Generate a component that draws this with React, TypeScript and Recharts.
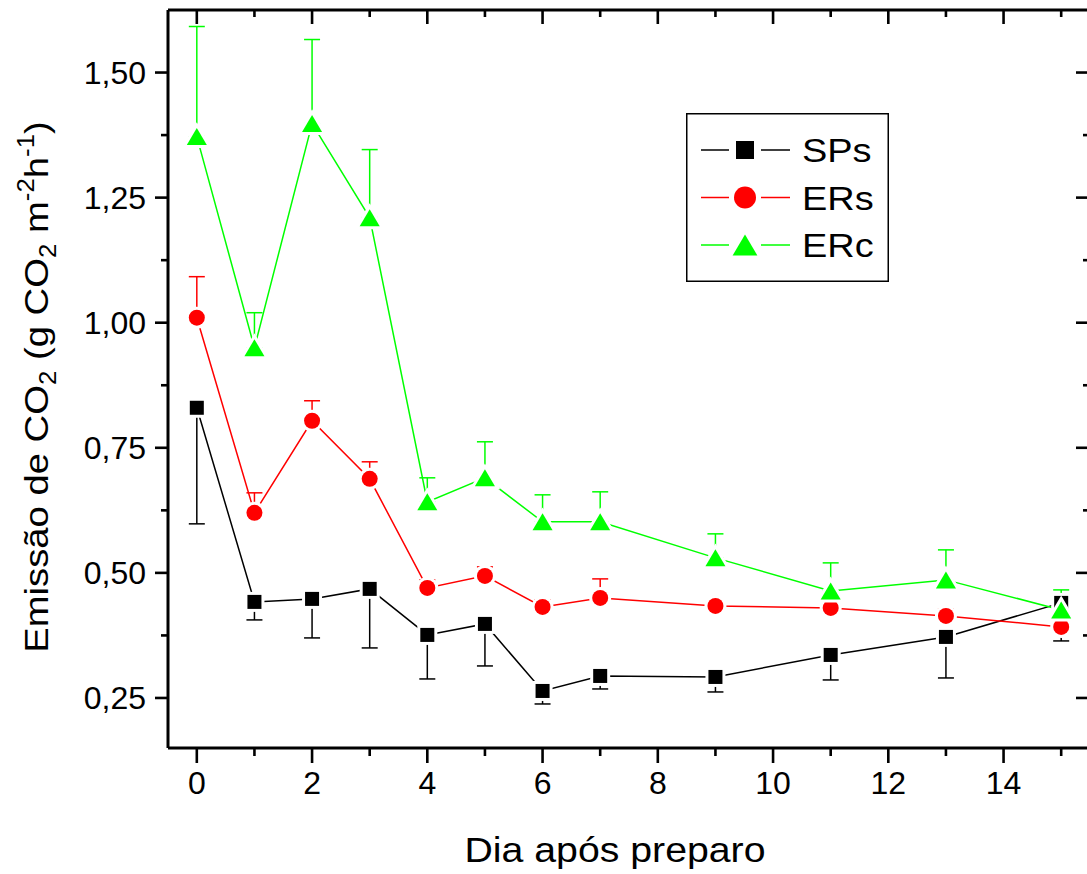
import { LineChart, Line, XAxis, YAxis, ErrorBar, Legend } from 'recharts';

// dias após o preparo do solo
const days = [0, 1, 2, 3, 4, 5, 6, 7, 9, 11, 13, 15];

// SPs (erro mostrado para baixo)
const sps = [0.83, 0.442, 0.448, 0.468, 0.376, 0.398, 0.264, 0.294, 0.292, 0.336, 0.372, 0.44];
const spsErr = [0.232, 0.036, 0.078, 0.118, 0.088, 0.084, 0.026, 0.026, 0.03, 0.05, 0.082, 0.076];

// ERs (erro para cima)
const ers = [1.01, 0.62, 0.804, 0.688, 0.47, 0.494, 0.432, 0.45, 0.434, 0.43, 0.414, 0.392];
const ersErr = [0.082, 0.04, 0.04, 0.034, 0.016, 0.018, 0.014, 0.038, 0.01, 0.012, 0.014, 0.02];

// ERc (erro para cima)
const erc = [1.372, 0.95, 1.398, 1.21, 0.642, 0.69, 0.602, 0.602, 0.53, 0.464, 0.486, 0.426];
const ercErr = [0.22, 0.07, 0.168, 0.136, 0.048, 0.072, 0.054, 0.06, 0.048, 0.056, 0.06, 0.04];

const xTicks = [0, 1, 2, 3, 4, 5, 6, 7, 8, 9, 10, 11, 12, 13, 14, 15];
const yTicks = [0.25, 0.375, 0.5, 0.625, 0.75, 0.875, 1.0, 1.125, 1.25, 1.375, 1.5];
const legendOrder = ['sps', 'ers', 'erc'];

const data = days.map((d, i) => ({
  day: d,
  sps: sps[i],
  spsErr: [spsErr[i], 0],
  ers: ers[i],
  ersErr: [0, ersErr[i]],
  erc: erc[i],
  ercErr: [0, ercErr[i]],
}));

const FONT = '"Liberation Sans", Arial, Helvetica, sans-serif';
const AXIS_W = 2.6;

type Shape = 'square' | 'circle' | 'triangle';

function Marker({ shape, cx, cy, color, size, halo = 6 }: { shape: Shape; cx: number; cy: number; color: string; size: number; halo?: number }) {
  if (cx == null || cy == null) return null;
  const common = { fill: color, stroke: '#fff', strokeWidth: halo, paintOrder: 'stroke' as any };
  if (shape === 'square') {
    return <rect x={cx - size / 2} y={cy - size / 2} width={size} height={size} {...common} />;
  }
  if (shape === 'circle') {
    return <circle cx={cx} cy={cy} r={size / 2} {...common} />;
  }
  const w = size * 1.18;
  const h = size;
  return <polygon points={`${cx},${cy - h / 2} ${cx - w / 2},${cy + h / 2} ${cx + w / 2},${cy + h / 2}`} {...common} />;
}

const dotFor = (shape: Shape, color: string, size: number) => (p: any) => (
  <Marker key={`${shape}-${p.index}`} shape={shape} cx={p.cx} cy={p.cy} color={color} size={size} />
);

function BottomTick({ x, y, payload }: any) {
  const major = payload.value % 2 === 0;
  return (
    <g>
      <line x1={x} x2={x} y1={y} y2={y + (major ? 15 : 8)} stroke="#000" strokeWidth={AXIS_W} />
      {major && (
        <text x={x} y={y + 46} textAnchor="middle" fontSize={32} fontFamily={FONT} fill="#000">
          {payload.value}
        </text>
      )}
    </g>
  );
}

function TopTick({ x, y, payload }: any) {
  const major = payload.value % 2 === 0;
  return <line x1={x} x2={x} y1={y} y2={y + (major ? 14 : 7)} stroke="#000" strokeWidth={AXIS_W} />;
}

const isMajorY = (v: number) => Math.abs(v * 4 - Math.round(v * 4)) < 1e-6;

function LeftTick({ x, y, payload }: any) {
  const v = payload.value;
  const major = isMajorY(v);
  return (
    <g>
      <line x1={x} x2={x - (major ? 13 : 7)} y1={y} y2={y} stroke="#000" strokeWidth={AXIS_W} />
      {major && (
        <text x={x - 22} y={y} dy="0.36em" textAnchor="end" fontSize={32} fontFamily={FONT} fill="#000">
          {v.toFixed(2).replace('.', ',')}
        </text>
      )}
    </g>
  );
}

function RightTick({ x, y, payload }: any) {
  const major = isMajorY(payload.value);
  return <line x1={x} x2={x - (major ? 14 : 7)} y1={y} y2={y} stroke="#000" strokeWidth={AXIS_W} />;
}

function YTitle() {
  return (
    <text transform="translate(48,387) rotate(-90) scale(1.125,1)" x={0} y={0} textAnchor="middle" fontSize={34} fontFamily={FONT} fill="#000">
      <tspan>Emissão de CO</tspan>
      <tspan dy={8} fontSize={23}>2</tspan>
      <tspan dy={-8}> (g CO</tspan>
      <tspan dy={8} fontSize={23}>2</tspan>
      <tspan dy={-8}> m</tspan>
      <tspan dy={-14} fontSize={23}>-2</tspan>
      <tspan dy={14}>h</tspan>
      <tspan dy={-14} fontSize={23}>-1</tspan>
      <tspan dy={14}>)</tspan>
    </text>
  );
}

function XTitle() {
  return (
    <text x={615} y={862} textAnchor="middle" fontSize={35} fontFamily={FONT} fill="#000" textLength={301} lengthAdjust="spacingAndGlyphs">
      Dia após preparo
    </text>
  );
}

const legendShapes: Record<string, { shape: Shape; size: number }> = {
  sps: { shape: 'square', size: 18 },
  ers: { shape: 'circle', size: 22 },
  erc: { shape: 'triangle', size: 21 },
};

function LegendBox({ payload }: any) {
  const items = [...(payload || [])].sort(
    (a: any, b: any) => legendOrder.indexOf(a.dataKey) - legendOrder.indexOf(b.dataKey)
  );
  return (
    <svg width={203} height={169} style={{ display: 'block' }}>
      <rect x={0.75} y={0.75} width={201.5} height={167.5} fill="#fff" stroke="#000" strokeWidth={1.5} />
      {items.map((p: any, i: number) => {
        const cy = 37 + i * 47.5;
        const m = legendShapes[p.dataKey as string];
        return (
          <g key={p.value}>
            <line x1={15} x2={43} y1={cy} y2={cy} stroke={p.color} strokeWidth={1.5} />
            <line x1={75} x2={104} y1={cy} y2={cy} stroke={p.color} strokeWidth={1.5} />
            <Marker shape={m.shape} cx={59} cy={cy} color={p.color} size={m.size} halo={0} />
            <text transform={`translate(116,${cy + 12}) scale(1.15,1)`} fontSize={33} fontFamily={FONT} fill="#000">
              {p.value}
            </text>
          </g>
        );
      })}
    </svg>
  );
}

export default function App() {
  return (
    <div style={{ position: 'fixed', left: 0, top: 0, width: 1087, height: 874, overflow: 'hidden', background: '#fff' }}>
      <LineChart width={1100} height={874} data={data} margin={{ top: 9, right: 9, left: 68, bottom: 66 }}>
        <XAxis
          xAxisId="b"
          dataKey="day"
          type="number"
          domain={[-0.5, 15.5]}
          allowDataOverflow
          ticks={xTicks}
          interval={0}
          height={60}
          tickSize={0}
          tickMargin={0}
          tickLine={false}
          axisLine={{ stroke: '#000', strokeWidth: 3 }}
          tick={<BottomTick />}
          label={<XTitle />}
        />
        <XAxis
          xAxisId="t"
          orientation="top"
          dataKey="day"
          type="number"
          domain={[-0.5, 15.5]}
          allowDataOverflow
          ticks={xTicks}
          interval={0}
          height={1}
          tickSize={0}
          tickMargin={0}
          tickLine={false}
          axisLine={{ stroke: '#000', strokeWidth: 3 }}
          tick={<TopTick />}
        />
        <YAxis
          yAxisId="l"
          type="number"
          domain={[0.15, 1.625]}
          allowDataOverflow
          ticks={yTicks}
          interval={0}
          width={100}
          tickSize={0}
          tickMargin={0}
          tickLine={false}
          axisLine={{ stroke: '#000', strokeWidth: 3 }}
          tick={<LeftTick />}
          label={<YTitle />}
        />
        <YAxis
          yAxisId="r"
          orientation="right"
          type="number"
          domain={[0.15, 1.625]}
          allowDataOverflow
          ticks={yTicks}
          interval={0}
          width={1}
          tickSize={0}
          tickMargin={0}
          tickLine={false}
          axisLine={{ stroke: '#000', strokeWidth: 3 }}
          tick={<RightTick />}
        />
        <Legend
          layout="horizontal"
          verticalAlign="middle"
          align="center"
          wrapperStyle={{ left: 686, top: 113, width: 203, height: 169 }}
          content={<LegendBox />}
        />
        <Line
          xAxisId="b"
          yAxisId="l"
          dataKey="sps"
          name="SPs"
          stroke="#000000"
          strokeWidth={1.5}
          dot={dotFor('square', '#000000', 14)}
          activeDot={false}
          isAnimationActive={false}
        >
          <ErrorBar dataKey="spsErr" direction="y" width={8} stroke="#000000" strokeWidth={1.5} />
        </Line>
        <Line
          xAxisId="b"
          yAxisId="l"
          dataKey="ers"
          name="ERs"
          stroke="#ff0000"
          strokeWidth={1.5}
          dot={dotFor('circle', '#ff0000', 16)}
          activeDot={false}
          isAnimationActive={false}
        >
          <ErrorBar dataKey="ersErr" direction="y" width={8} stroke="#ff0000" strokeWidth={1.5} />
        </Line>
        <Line
          xAxisId="b"
          yAxisId="l"
          dataKey="erc"
          name="ERc"
          stroke="#00ff00"
          strokeWidth={1.5}
          dot={dotFor('triangle', '#00ff00', 17)}
          activeDot={false}
          isAnimationActive={false}
        >
          <ErrorBar dataKey="ercErr" direction="y" width={8} stroke="#00ff00" strokeWidth={1.5} />
        </Line>
      </LineChart>
    </div>
  );
}
